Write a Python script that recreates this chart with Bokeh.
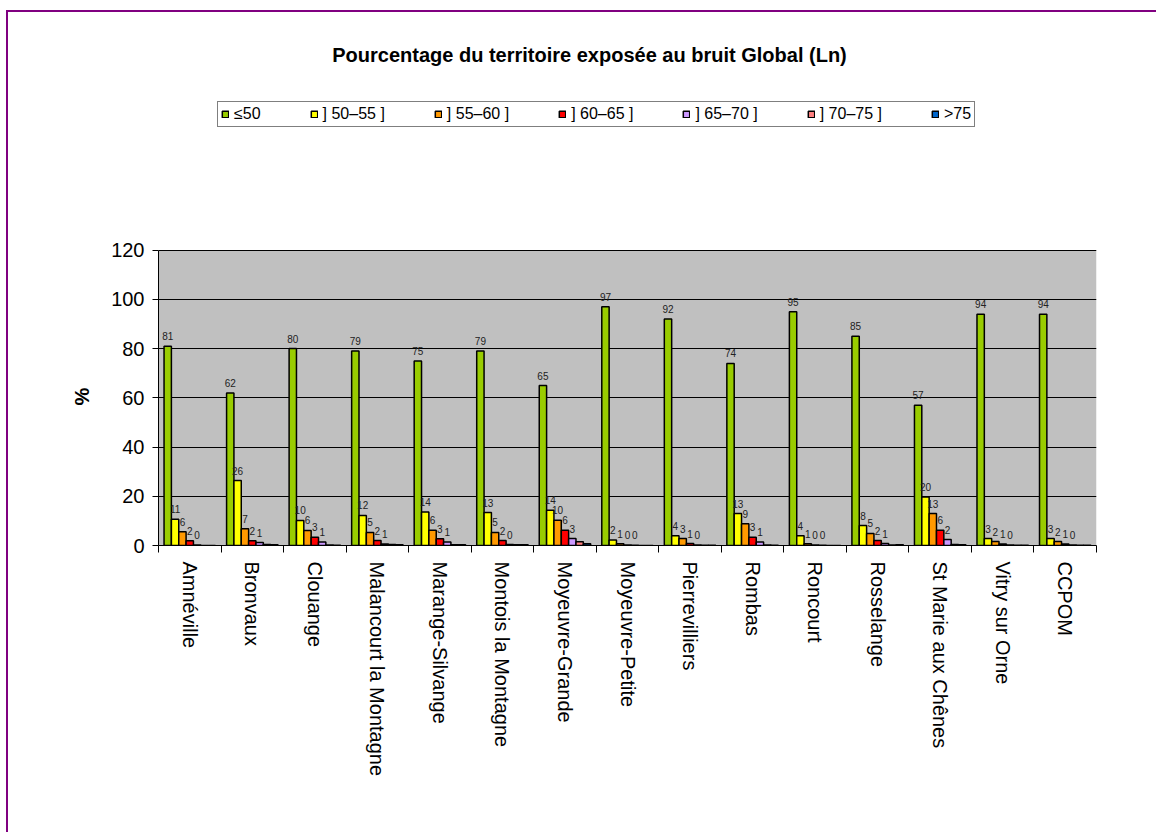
import math
from bokeh.plotting import figure
from bokeh.models import (Range1d, FixedTicker, Legend, LegendItem, Label, Title,
                          ColumnDataSource)
from bokeh.transform import dodge
from bokeh.core.properties import value
from bokeh.embed import file_html
from bokeh.resources import INLINE

# ---------------- data ----------------
communes = ["Amnéville", "Bronvaux", "Clouange", "Malancourt la Montagne",
            "Marange-Silvange", "Montois la Montagne", "Moyeuvre-Grande",
            "Moyeuvre-Petite", "Pierrevilliers", "Rombas", "Roncourt",
            "Rosselange", "St Marie aux Chênes", "Vitry sur Orne", "CCPOM"]

le50   = [81, 62, 80, 79, 75, 79, 65, 97, 92, 74, 95, 85, 57, 94, 94]
b50_55 = [10.7, 26.4, 10.2, 12.2, 13.6, 13.4, 14.3, 2.2, 4.0, 13.0, 4.0, 8.1, 19.7, 2.8, 2.8]
b55_60 = [5.6, 6.8, 6.1, 5.3, 6.2, 5.3, 10.3, 0.7, 2.8, 8.8, 0.7, 4.9, 13.0, 1.6, 1.6]
b60_65 = [1.9, 1.9, 3.4, 2.0, 2.7, 2.0, 6.2, 0.2, 0.8, 3.4, 0.2, 2.0, 6.2, 0.6, 0.6]
b65_70 = [0.2, 1.2, 1.4, 0.6, 1.4, 0.4, 2.8, 0.1, 0.2, 1.4, 0.1, 0.8, 2.4, 0.2, 0.2]
b70_75 = [0.0, 0.4, 0.2, 0.4, 0.3, 0.3, 1.5, 0.0, 0.1, 0.2, 0.0, 0.2, 0.4, 0.1, 0.1]
gt75   = [0.0, 0.3, 0.1, 0.3, 0.3, 0.3, 0.7, 0.0, 0.1, 0.1, 0.0, 0.3, 0.3, 0.1, 0.1]

series_names = ["≤50", "] 50–55 ]", "] 55–60 ]", "] 60–65 ]", "] 65–70 ]", "] 70–75 ]", ">75"]
series_values = [le50, b50_55, b55_60, b60_65, b65_70, b70_75, gt75]
series_colors = ["#99CC00", "#FFFF00", "#FF9900", "#FF0000", "#CC99FF", "#FF8080", "#0066CC"]
labelled_series = 5  # data labels shown on the first five series

y_ticks = [0, 20, 40, 60, 80, 100, 120]
title_text = "Pourcentage du territoire exposée au bruit Global (Ln)"
y_title = "%"

# ---------------- figure ----------------
FONT = "Liberation Sans"
W, H = 1150, 822
n = len(communes)
FRAME_TOP, FRAME_BOTTOM = 10, 533          # canvas pixels
PX_PER_UNIT = 2.461
y_view_top = (FRAME_BOTTOM - FRAME_TOP) / PX_PER_UNIT

p = figure(width=W, height=H, output_backend="svg", toolbar_location=None,
           x_range=Range1d(0, n), y_range=Range1d(0, y_view_top),
           min_border_left=150, min_border_right=W - 1088,
           min_border_top=FRAME_TOP, min_border_bottom=H - FRAME_BOTTOM)
p.background_fill_color = "white"
p.border_fill_color = "white"
p.outline_line_color = None
p.styles = {"border-left": "2px solid #800080", "border-top": "2px solid #800080",
            "margin-left": "6px", "margin-top": "10px"}

# grey plot area (0..120)
p.quad(left=0, right=n, bottom=0, top=y_ticks[-1], fill_color="#C0C0C0",
       line_color=None, level="image")

data = dict(x=[i + 0.5 for i in range(n)])
for k, vals in enumerate(series_values):
    data[f"s{k}"] = vals
    data[f"t{k}"] = [f"{round(v)}" for v in vals]
src = ColumnDataSource(data)

bw = 0.1175
renderers = []
for k, (name, color) in enumerate(zip(series_names, series_colors)):
    off = (k - 3) * bw
    r = p.vbar(x=dodge("x", off, range=p.x_range), top=f"s{k}", width=bw,
               source=src, fill_color=color, line_color="black", line_width=1.5)
    renderers.append(r)
    if k < labelled_series:
        p.text(x=dodge("x", off, range=p.x_range), y=f"s{k}", text=f"t{k}",
               source=src, text_font=value(FONT), text_font_size="10px",
               text_color="#222222", text_align="center",
               text_baseline="alphabetic", y_offset=-10)

# axes
p.xaxis.ticker = FixedTicker(ticks=[i + 0.5 for i in range(n)],
                             minor_ticks=list(range(n + 1)))
p.xaxis.major_label_overrides = {i + 0.5: c for i, c in enumerate(communes)}
p.xaxis.major_tick_line_color = None
p.xaxis.major_tick_in = 0
p.xaxis.major_tick_out = 0
p.xaxis.minor_tick_in = 0
p.xaxis.minor_tick_out = 7
p.xaxis.minor_tick_line_color = "black"
p.xaxis.major_label_orientation = "vertical"
p.xaxis.major_label_standoff = 9

p.yaxis.ticker = FixedTicker(ticks=y_ticks)
p.yaxis.bounds = (0, y_ticks[-1])
p.yaxis.major_tick_in = 0
p.yaxis.major_tick_out = 6
p.yaxis.major_tick_line_color = "black"
p.yaxis.minor_tick_line_color = None
p.yaxis.major_label_standoff = 8

for ax in (p.xaxis, p.yaxis):
    ax.axis_line_color = "black"
    ax.major_label_text_font = FONT
    ax.major_label_text_font_size = "20px"
    ax.major_label_text_color = "black"

p.xgrid.grid_line_color = None
p.ygrid.ticker = FixedTicker(ticks=y_ticks)
p.ygrid.grid_line_color = "black"
p.ygrid.grid_line_width = 1

# y axis title, centred on the 0..120 span
p.add_layout(Title(text=y_title, align="left", offset=140, standoff=32,
                   text_font=FONT, text_font_size="20px", text_font_style="bold",
                   text_color="black"), "left")

# legend (inside the frame, above the grey area)
legend = Legend(items=[LegendItem(label=nm, renderers=[r]) for nm, r in zip(series_names, renderers)],
                orientation="horizontal", location=(59, 418),
                label_text_font=FONT, label_text_font_size="16px", label_text_color="black",
                glyph_width=8, glyph_height=8, label_standoff=5, spacing=49,
                padding=3, margin=0, label_height=13,
                border_line_color="black", border_line_width=1,
                background_fill_color="white", background_fill_alpha=1.0)
p.add_layout(legend, "center")

# title
p.add_layout(Label(x=431, y=491, x_units="screen", y_units="screen", text=title_text,
                   text_font=FONT, text_font_size="20px", text_font_style="bold",
                   text_align="center", text_baseline="middle", text_color="black"))

open("out.html", "w").write(file_html(p, INLINE))
